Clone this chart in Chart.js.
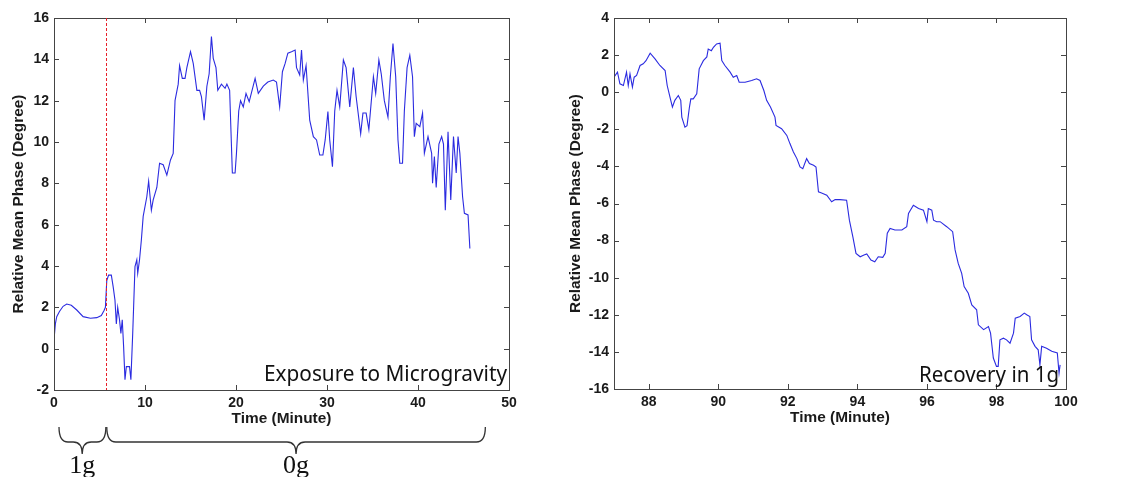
<!DOCTYPE html>
<html>
<head>
<meta charset="utf-8">
<script src="https://cdn.jsdelivr.net/npm/chart.js@4.4.1/dist/chart.umd.min.js"></script>
<style>
  body { margin: 0; background: #fff; width: 1124px; height: 477px; overflow: hidden; position: relative; }
  canvas { position: absolute; top: 0; }
  #exposure { left: 0; }
  #recovery { left: 560px; }
</style>
</head>
<body>
<canvas id="exposure" width="560" height="477"></canvas>
<canvas id="recovery" width="564" height="477"></canvas>
<script>
// exposure to microgravity, minutes 0 - 46
var exposureTime = [0, 0.15, 0.3, 0.6, 1.0, 1.4, 1.9, 2.5, 3.2, 4.0, 4.7, 5.2, 5.5, 5.65, 5.8, 6.0, 6.3, 6.5, 6.7, 6.85,
  7.0, 7.2, 7.35, 7.5, 7.65, 7.8, 7.95, 8.3, 8.45, 8.65, 8.9, 9.1, 9.2, 9.4, 9.6, 9.8, 10.2, 10.4, 10.7, 10.9,
  11.3, 11.6, 12.0, 12.4, 12.8, 13.1, 13.3, 13.65, 13.8, 14.1, 14.4, 14.6, 15.0, 15.3, 15.7, 16.0, 16.2, 16.5, 16.8, 17.05,
  17.3, 17.5, 17.8, 18.0, 18.4, 18.8, 19.0, 19.3, 19.6, 19.9, 20.05, 20.3, 20.5, 20.8, 21.1, 21.45, 22.1, 22.45, 23.0, 23.5,
  24.1, 24.45, 24.8, 25.1, 25.4, 25.7, 26.1, 26.5, 26.65, 27.0, 27.2, 27.4, 27.7, 28.1, 28.5, 28.85, 29.2, 29.55, 29.8, 30.1,
  30.3, 30.6, 30.85, 31.1, 31.4, 31.8, 32.1, 32.5, 32.9, 33.2, 33.7, 33.95, 34.3, 34.6, 35.1, 35.35, 35.7, 35.96, 36.3, 36.7,
  36.96, 37.25, 37.55, 37.8, 38.0, 38.3, 38.5, 38.8, 39.1, 39.4, 39.6, 39.8, 40.2, 40.5, 40.7, 41.1, 41.5, 41.6, 41.8, 42.0,
  42.3, 42.6, 42.8, 43.0, 43.3, 43.6, 43.9, 44.2, 44.4, 44.6, 44.9, 45.1, 45.5, 45.7];
var exposurePhase = [0.42, 1.2, 1.55, 1.8, 2.05, 2.16, 2.1, 1.87, 1.55, 1.47, 1.5, 1.6, 1.85, 2.0, 3.3, 3.56, 3.56, 3.0, 2.35, 1.2,
  2.0, 1.4, 0.74, 1.4, 0.1, -1.5, -0.87, -0.87, -1.5, 0.74, 3.97, 4.3, 3.65, 4.3, 5.26, 6.4, 7.35, 8.1, 6.7, 7.2,
  7.8, 8.97, 8.9, 8.4, 9.13, 9.45, 12.0, 12.8, 13.7, 13.08, 13.08, 13.6, 14.37, 13.8, 12.5, 12.5, 12.2, 11.06, 12.7, 13.3,
  15.1, 14.05, 13.6, 12.5, 12.8, 12.6, 12.8, 12.5, 8.5, 8.5, 9.45, 11.5, 12.0, 11.7, 12.35, 11.95, 13.08, 12.35, 12.7, 12.9,
  13.0, 12.9, 11.7, 13.4, 13.8, 14.3, 14.37, 14.45, 13.6, 13.24, 14.45, 13.0, 13.7, 11.06, 10.26, 10.1, 9.37, 9.37, 10.1, 11.47,
  10.1, 8.8, 11.5, 12.5, 11.7, 13.97, 13.6, 11.7, 13.6, 12.2, 10.4, 11.4, 11.4, 10.6, 13.16, 12.35, 13.97, 13.3, 12.0, 11.2,
  13.16, 14.77, 13.16, 10.1, 8.97, 8.97, 11.5, 13.6, 14.2, 13.16, 10.26, 10.9, 10.74, 11.4, 9.45, 10.26, 9.45, 8.0, 9.3, 7.8,
  9.9, 10.26, 9.9, 6.7, 10.5, 7.2, 10.26, 8.5, 10.26, 9.45, 7.35, 6.55, 6.47, 4.85];

// recovery in 1g, minutes 87 - 100
var recoveryTime = [87.0, 87.1, 87.17, 87.27, 87.36, 87.41, 87.46, 87.53, 87.58, 87.65, 87.75, 87.84, 87.92, 88.04, 88.18, 88.32, 88.47, 88.53, 88.61, 88.68,
  88.75, 88.85, 88.92, 88.95, 89.04, 89.1, 89.17, 89.21, 89.28, 89.38, 89.45, 89.57, 89.67, 89.71, 89.8, 89.86, 89.95, 90.05, 90.1, 90.19,
  90.34, 90.43, 90.53, 90.6, 90.77, 90.96, 91.1, 91.2, 91.31, 91.39, 91.5, 91.63, 91.66, 91.82, 91.97, 92.06, 92.16, 92.26, 92.35, 92.43,
  92.54, 92.62, 92.74, 92.81, 92.88, 92.97, 93.12, 93.26, 93.36, 93.5, 93.69, 93.77, 93.87, 93.96, 94.08, 94.19, 94.27, 94.39, 94.5, 94.6,
  94.73, 94.8, 94.86, 94.94, 95.08, 95.28, 95.42, 95.47, 95.61, 95.76, 95.9, 96.0, 96.04, 96.14, 96.19, 96.28, 96.38, 96.57, 96.74, 96.81,
  96.9, 97.0, 97.07, 97.19, 97.29, 97.43, 97.48, 97.63, 97.77, 97.83, 97.91, 98.0, 98.05, 98.1, 98.2, 98.29, 98.39, 98.49, 98.54, 98.68,
  98.8, 98.87, 98.96, 99.01, 99.11, 99.2, 99.25, 99.3, 99.44, 99.59, 99.75, 99.8, 99.83];
var recoveryPhase = [0.81, 1.08, 0.45, 0.36, 1.08, 0.36, 0.99, 0.27, 0.81, 0.9, 1.44, 1.53, 1.7, 2.1, 1.8, 1.44, 1.17, 0.36, -0.27, -0.8,
  -0.44, -0.18, -0.44, -1.34, -1.88, -1.8, -0.8, -0.36, -0.36, -0.09, 1.26, 1.7, 1.9, 2.33, 2.24, 2.42, 2.6, 2.64, 1.7, 1.44,
  1.08, 0.81, 0.9, 0.54, 0.54, 0.63, 0.72, 0.63, 0.09, -0.44, -0.8, -1.34, -1.79, -1.97, -2.33, -2.77, -3.22, -3.58, -4.03, -4.12,
  -3.58, -3.85, -3.94, -4.03, -5.37, -5.43, -5.55, -5.91, -5.79, -5.79, -5.82, -6.9, -7.8, -8.69, -8.87, -8.78, -8.72, -9.05, -9.14, -8.87,
  -8.9, -8.69, -7.6, -7.34, -7.43, -7.43, -7.25, -6.54, -6.09, -6.27, -6.36, -6.98, -6.27, -6.36, -6.9, -6.98, -6.98, -7.25, -7.52, -8.5,
  -9.23, -9.77, -10.48, -10.84, -11.47, -11.73, -12.54, -12.8, -12.63, -12.99, -14.33, -14.78, -14.78, -13.35, -13.26, -13.35, -13.53, -12.99, -12.18, -12.09,
  -11.91, -12.0, -12.09, -13.35, -13.7, -13.89, -14.7, -13.7, -13.8, -13.97, -14.06, -15.14, -14.7];

var exposureXTicks = [0, 10, 20, 30, 40, 50];
var exposureYTicks = [-2, 0, 2, 4, 6, 8, 10, 12, 14, 16];
var recoveryXTicks = [88, 90, 92, 94, 96, 98, 100];
var recoveryYTicks = [-16, -14, -12, -10, -8, -6, -4, -2, 0, 2, 4];

var switchTime = 5.67;              // red dashed line: 1g -> 0g
var braceLabels = ['1g', '0g'];
var braceFrom = [0.55, 5.8];
var braceTo = [5.7, 47.4];
var braceTip = [3.1, 26.6];

var tickFont = { family: 'Liberation Sans', size: 14, weight: 'bold' };
var titleFont = { family: 'Liberation Sans', size: 15.4, weight: 'bold' };

function points(xs, ys) {
  return xs.map(function (x, i) { return { x: x, y: ys[i] }; });
}

function brace(ctx, x1, x2, xc, yTop, yMid, yTip) {
  var r = 9;
  ctx.beginPath();
  ctx.moveTo(x1, yTop);
  ctx.quadraticCurveTo(x1, yMid, x1 + r, yMid);
  ctx.lineTo(xc - r, yMid);
  ctx.quadraticCurveTo(xc, yMid, xc, yTip);
  ctx.quadraticCurveTo(xc, yMid, xc + r, yMid);
  ctx.lineTo(x2 - r, yMid);
  ctx.quadraticCurveTo(x2, yMid, x2, yTop);
  ctx.stroke();
}

var framePlugin = {
  id: 'frame',
  afterDraw: function (chart, args, opts) {
    var ctx = chart.ctx, a = chart.chartArea;
    var xs = chart.scales.x, ys = chart.scales.y;
    ctx.save();
    ctx.strokeStyle = '#444';
    ctx.lineWidth = 1;
    ctx.strokeRect(Math.round(a.left) + 0.5, Math.round(a.top) + 0.5, Math.round(a.right - a.left), Math.round(a.bottom - a.top));
    ctx.beginPath();
    xs.ticks.forEach(function (t) {
      var px = Math.round(xs.getPixelForValue(t.value)) + 0.5;
      ctx.moveTo(px, a.bottom); ctx.lineTo(px, a.bottom - 5);
      ctx.moveTo(px, a.top); ctx.lineTo(px, a.top + 5);
    });
    ys.ticks.forEach(function (t) {
      var py = Math.round(ys.getPixelForValue(t.value)) + 0.5;
      ctx.moveTo(a.left, py); ctx.lineTo(a.left + 5, py);
      ctx.moveTo(a.right, py); ctx.lineTo(a.right - 5, py);
    });
    ctx.stroke();

    if (opts.marker !== undefined) {
      var mx = Math.round(xs.getPixelForValue(opts.marker)) + 0.5;
      ctx.strokeStyle = '#e8202a';
      ctx.setLineDash([3, 2]);
      ctx.beginPath();
      ctx.moveTo(mx, a.top); ctx.lineTo(mx, a.bottom);
      ctx.stroke();
      ctx.setLineDash([]);
    }

    ctx.fillStyle = '#111';
    ctx.font = '22px "Noto Sans"';
    ctx.textAlign = 'right';
    ctx.textBaseline = 'alphabetic';
    ctx.fillText(opts.note, opts.noteX, opts.noteY, opts.noteWidth);

    if (opts.braces) {
      ctx.strokeStyle = '#333';
      ctx.lineWidth = 1.3;
      ctx.font = '26px "Liberation Serif"';
      ctx.textAlign = 'center';
      braceLabels.forEach(function (lab, i) {
        var x1 = xs.getPixelForValue(braceFrom[i]);
        var x2 = xs.getPixelForValue(braceTo[i]);
        var xc = xs.getPixelForValue(braceTip[i]);
        brace(ctx, x1, x2, xc, 427, 442, 454);
        ctx.fillText(lab, xc, 473);
      });
    }
    ctx.restore();
  }
};

function makeChart(id, xsData, ysData, xMin, xMax, xTicks, yMin, yMax, yTicks, pad, titlePad, frameOpts) {
  return new Chart(document.getElementById(id), {
    type: 'line',
    data: {
      datasets: [{
        data: points(xsData, ysData),
        borderColor: '#2b2be0',
        borderWidth: 1.1,
        pointRadius: 0,
        tension: 0,
        fill: false
      }]
    },
    options: {
      responsive: false,
      animation: false,
      events: [],
      layout: { padding: pad },
      plugins: { legend: { display: false }, tooltip: { enabled: false }, frame: frameOpts },
      scales: {
        x: {
          type: 'linear', min: xMin, max: xMax,
          afterBuildTicks: function (s) { s.ticks = xTicks.map(function (v) { return { value: v }; }); },
          afterFit: function (s) { s.height = 40; },
          grid: { display: false, drawTicks: false },
          border: { display: false },
          ticks: { font: tickFont, color: '#1a1a1a', padding: 5, maxRotation: 0 },
          title: { display: true, text: 'Time (Minute)', font: titleFont, color: '#1a1a1a', padding: { top: 0, bottom: 2 } }
        },
        y: {
          type: 'linear', min: yMin, max: yMax,
          afterBuildTicks: function (s) { s.ticks = yTicks.map(function (v) { return { value: v }; }); },
          afterFit: function (s) { s.width = 54; },
          grid: { display: false, drawTicks: false },
          border: { display: false },
          ticks: { font: tickFont, color: '#1a1a1a', padding: 5 },
          title: { display: true, text: 'Relative Mean Phase (Degree)', font: titleFont, color: '#1a1a1a', padding: { top: titlePad, bottom: 0 } }
        }
      }
    },
    plugins: [framePlugin]
  });
}

makeChart('exposure', exposureTime, exposurePhase, 0, 50, exposureXTicks, -2, 16, exposureYTicks,
  { left: 0, right: 51, top: 18, bottom: 47 }, 10,
  { marker: switchTime, note: 'Exposure to Microgravity', noteX: 507, noteY: 381, noteWidth: 243, braces: true });

makeChart('recovery', recoveryTime, recoveryPhase, 87, 100, recoveryXTicks, -16, 4, recoveryYTicks,
  { left: 0, right: 58, top: 18, bottom: 48 }, 7,
  { note: 'Recovery in 1g', noteX: 499, noteY: 382, noteWidth: 140, braces: false });
</script>
</body>
</html>
